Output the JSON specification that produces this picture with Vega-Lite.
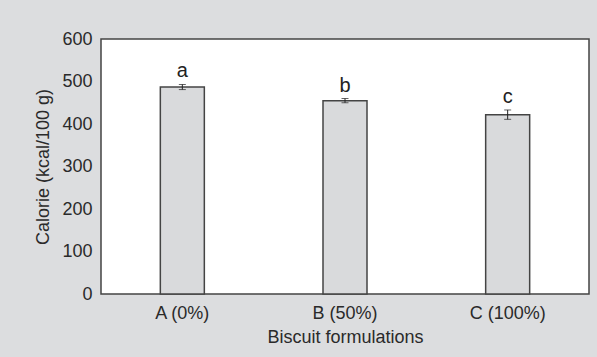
{
  "$schema": "https://vega.github.io/schema/vega-lite/v6.json",
  "autosize": "none",
  "width": 488,
  "height": 255,
  "padding": {"left": 101, "top": 39, "right": 8, "bottom": 63},
  "background": "#dcdddf",
  "config": {
    "font": "Liberation Sans",
    "view": {"fill": "white", "stroke": "#444444", "strokeWidth": 1.5},
    "axis": {"labelColor": "#2a2a2a", "titleColor": "#2a2a2a", "labelFontSize": 18, "titleFontSize": 18, "titleFontWeight": "normal", "ticks": false, "domain": false, "grid": false}
  },
  "data": {"values": [
    {"formulation": "A (0%)", "calorie": 487, "lo": 481, "hi": 493, "letter": "a"},
    {"formulation": "B (50%)", "calorie": 455, "lo": 450, "hi": 460, "letter": "b"},
    {"formulation": "C (100%)", "calorie": 422, "lo": 411, "hi": 433, "letter": "c"}
  ]},
  "encoding": {
    "x": {"field": "formulation", "type": "nominal", "sort": null,
      "scale": {"paddingInner": 0, "paddingOuter": 0},
      "axis": {"title": "Biscuit formulations", "labelAngle": 0, "labelPadding": 10, "titlePadding": 6}}
  },
  "layer": [
    {
      "mark": {"type": "bar", "size": 44, "fill": "#d9dadc", "stroke": "#444444", "strokeWidth": 1.5},
      "encoding": {
        "y": {"field": "calorie", "type": "quantitative", "title": "Calorie (kcal/100 g)",
          "scale": {"domain": [0, 600], "nice": false},
          "axis": {"values": [0, 100, 200, 300, 400, 500, 600], "labelPadding": 9, "titlePadding": 9}}
      }
    },
    {
      "mark": {"type": "errorbar", "ticks": {"size": 7, "color": "#222222"}, "color": "#222222"},
      "encoding": {
        "y": {"field": "lo", "type": "quantitative", "title": "Calorie (kcal/100 g)"},
        "y2": {"field": "hi"}
      }
    },
    {
      "mark": {"type": "text", "baseline": "bottom", "dy": -3, "fontSize": 20, "color": "#222222"},
      "encoding": {
        "y": {"field": "hi", "type": "quantitative", "title": "Calorie (kcal/100 g)"},
        "text": {"field": "letter"}
      }
    }
  ]
}
